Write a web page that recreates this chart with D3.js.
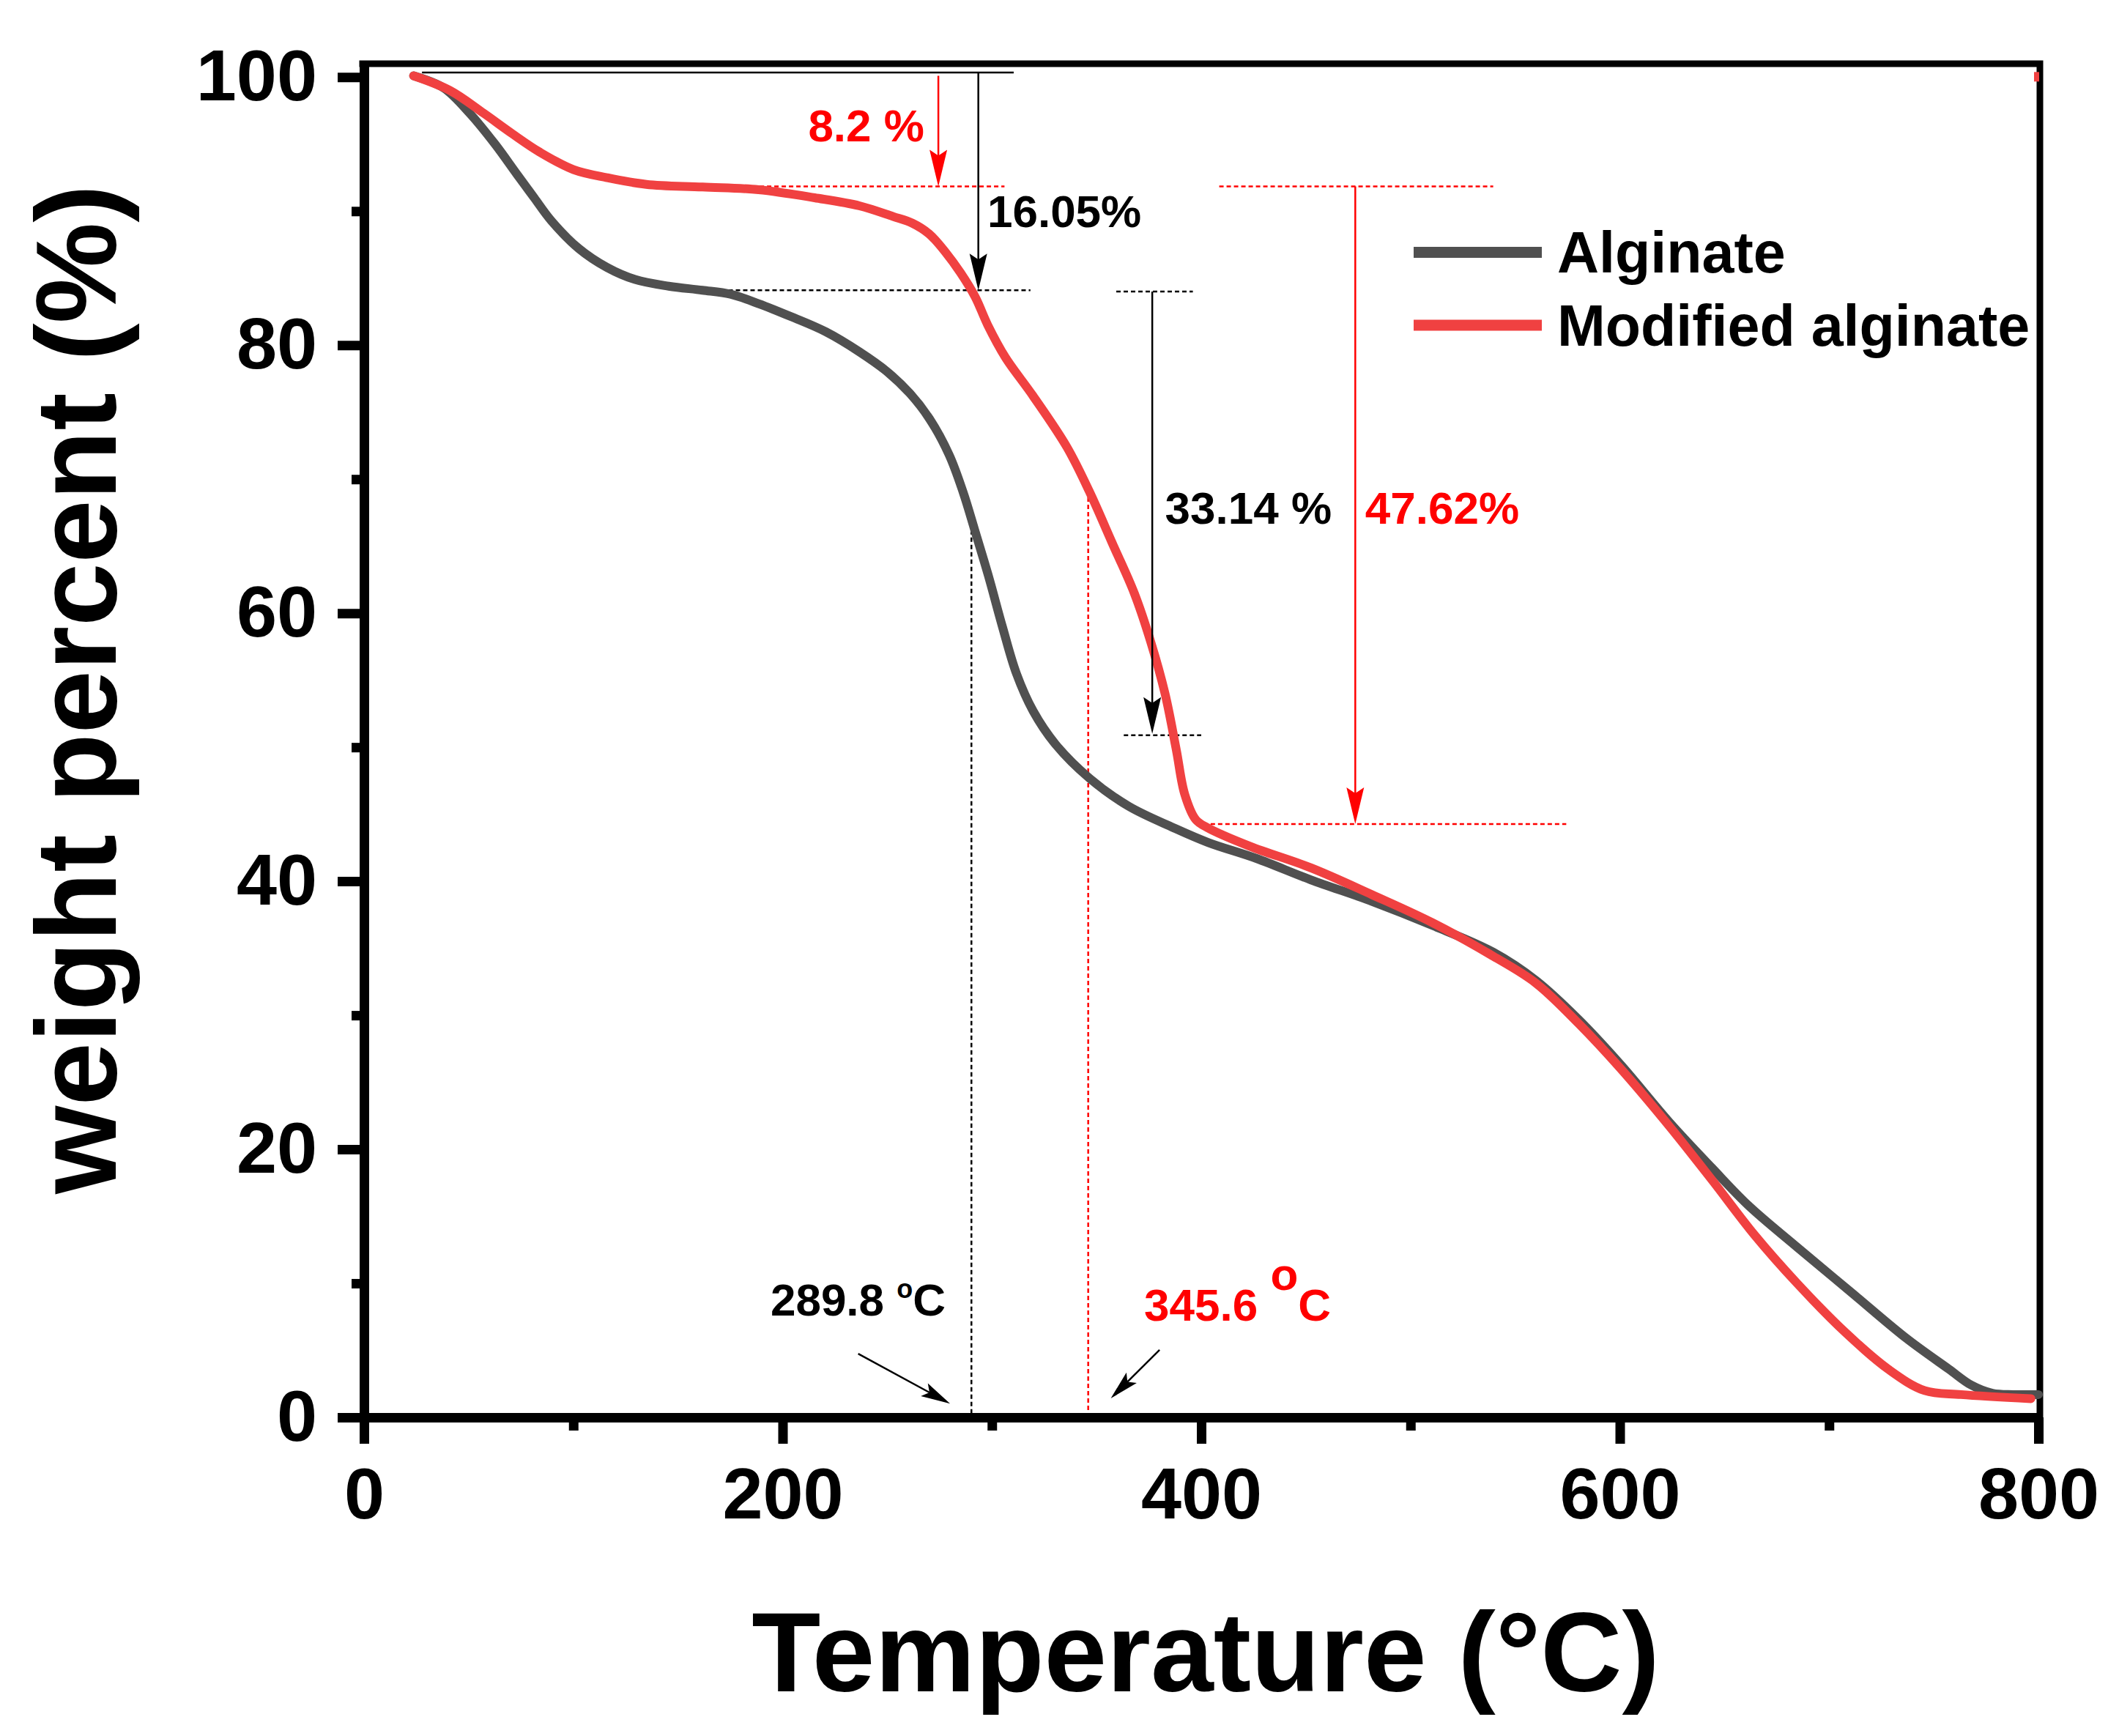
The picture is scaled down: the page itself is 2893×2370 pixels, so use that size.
<!DOCTYPE html>
<html>
<head>
<meta charset="utf-8">
<script src="https://cdn.jsdelivr.net/npm/d3@7"></script>
<style>
  body { margin: 0; background: #fff; }
  svg text { font-family: "Liberation Sans", Arial, sans-serif; font-weight: bold; }
</style>
</head>
<body>
<div id="tga"></div>
<script>
// data
var algTemp = [23.7, 38, 50.5, 62.6, 73.3, 81.3, 89.4, 102.7, 116.1, 129.5, 145.6, 161.7, 175.1, 188.5, 204.5,
  220.6, 236.7, 250.1, 260.8, 270.2, 279.6, 286.3, 291.6, 298.3, 305, 311.7, 319.7, 330.5, 346.5, 365.3, 386.7,
  403.2, 426.4, 452.5, 481.6, 510.6, 539.6, 559.9, 580.2, 600.5, 623.8, 644.1, 661.5, 684.7, 710.8, 736.9,
  757.2, 768, 778, 788, 800];
var algWeight = [100.1, 99.2, 97.3, 95.0, 92.7, 91.0, 89.3, 87.2, 85.8, 84.9, 84.4, 84.1, 83.8, 83.1, 82.1,
  81.0, 79.5, 78.0, 76.4, 74.5, 71.8, 69.0, 66.3, 62.8, 59.0, 55.5, 52.7, 50.2, 47.7, 45.6, 44.0,
  42.9, 41.7, 40.1, 38.5, 36.7, 34.7, 32.6, 29.7, 26.3, 22.0, 18.6, 15.8, 12.7, 9.3, 5.9,
  3.6, 2.4, 1.8, 1.7, 1.7];

var modTemp = [23.7, 41.1, 57.2, 70.6, 84, 100.1, 116.1, 134.9, 161.7, 188.5, 215.3, 236.7, 252.8, 262,
  270, 278, 285, 292, 298, 306.4, 319.7, 335.8, 346.5, 357.3, 368, 376, 382.7, 388.1, 392.1, 397.4, 403, 423.5,
  452.5, 481.6, 510.6, 539.6, 559.9, 580.2, 600.5, 623.8, 644.1, 664.4, 684.7, 708, 728.2, 745.6, 763, 796.4];
var modWeight = [100.1, 99.0, 97.3, 95.8, 94.4, 93.1, 92.5, 92.0, 91.8, 91.6, 91.0, 90.4, 89.6, 89.1,
  88.3, 86.9, 85.4, 83.6, 81.5, 79.1, 76.2, 72.4, 69.1, 65.3, 61.5, 57.8, 54.0, 49.8, 46.5, 44.6, 44.0, 42.6,
  41.0, 39.0, 36.9, 34.4, 32.4, 29.4, 26.0, 21.7, 17.7, 13.6, 10.0, 6.3, 3.6, 2.0, 1.7, 1.4];
var modStray = [800, 100];

var seriesNames = ["Alginate", "Modified alginate"];
var seriesColors = ["#505050", "#f04141"];

var xTicks = [0, 200, 400, 600, 800];
var xMinor = [100, 300, 500, 700];
var yTicks = [0, 20, 40, 60, 80, 100];
var yMinor = [10, 30, 50, 70, 90];

// annotations, in (temperature, weight %)
var refLine = [[27.7, 100.35], [310.4, 100.35]];
var blackDashes = [
  [[149.6, 84.1], [318.4, 84.1]],
  [[359.4, 84.0], [396, 84.0]],
  [[363, 50.9], [400, 50.9]],
  [[290.2, 66.75], [290.2, 0]]
];
var redDashes = [
  [[175, 91.85], [306, 91.85]],
  [[408.6, 91.85], [539.5, 91.85]],
  [[401, 44.27], [574.4, 44.27]],
  [[346, 68.65], [346, 0]]
];
var arrows = [
  {from: [274.4, 100.1], to: [274.4, 91.85], red: true},
  {from: [293.5, 100.35], to: [293.5, 84.1], red: false},
  {from: [376.6, 84.0], to: [376.6, 51.0], red: false},
  {from: [473.6, 91.85], to: [473.6, 44.27], red: true},
  {from: [236.1, 4.75], to: [280, 1.02], red: false, small: true},
  {from: [380.1, 5.04], to: [356.8, 1.42], red: false, small: true}
];
var labels = [
  {text: "8.2 %", at: [267.7, 95.2], anchor: "end", red: true},
  {text: "16.05%", at: [297.8, 88.8], anchor: "start", red: false},
  {text: "33.14 %", at: [382.7, 66.66], anchor: "start", red: false},
  {text: "47.62%", at: [478.3, 66.66], anchor: "start", red: true}
];
var tempLabels = [
  {num: "289.8", at: [194.2, 7.6], red: false, degSize: 36, degRise: 24},
  {num: "345.6", at: [372.7, 7.2], red: true, degSize: 62, degRise: 42}
];

// layout
var W = 2893, H = 2370;
var svg = d3.select("#tga")
  .append("svg")
    .attr("width", W)
    .attr("height", H);

var x = d3.scaleLinear().domain([0, 800]).range([497, 2783]);
var y = d3.scaleLinear().domain([0, 101]).range([1935, 87]);

var annRed = "#ff0000";

// frame (top and right)
svg.append("path")
  .attr("d", "M" + 490.5 + "," + y(101) + "H" + (x(800) + 2) + "V" + y(0))
  .attr("fill", "none")
  .attr("stroke", "#000")
  .attr("stroke-width", 9);

// annotation lines under the curves
var lineGen = d3.line().x(function(d) { return x(d[0]) }).y(function(d) { return y(d[1]) });

svg.append("path")
  .attr("d", lineGen(refLine))
  .attr("stroke", "#000")
  .attr("stroke-width", 2.5);

blackDashes.forEach(function(seg) {
  svg.append("path")
    .attr("d", lineGen(seg))
    .attr("stroke", "#000")
    .attr("stroke-width", 2.5)
    .attr("stroke-dasharray", "6,4");
});
redDashes.forEach(function(seg) {
  svg.append("path")
    .attr("d", lineGen(seg))
    .attr("stroke", annRed)
    .attr("stroke-width", 2.5)
    .attr("stroke-dasharray", "6,4");
});

// curves
var curve = d3.line()
  .x(function(d) { return x(d[0]) })
  .y(function(d) { return y(d[1]) })
  .curve(d3.curveCatmullRom.alpha(0.5));

var algPts = d3.zip(algTemp, algWeight);
var modPts = d3.zip(modTemp, modWeight);

[algPts, modPts].forEach(function(pts, i) {
  svg.append("path")
    .attr("d", curve(pts))
    .attr("fill", "none")
    .attr("stroke", seriesColors[i])
    .attr("stroke-width", 12)
    .attr("stroke-linejoin", "round")
    .attr("stroke-linecap", "round");
});

svg.append("rect")
  .attr("x", x(modStray[0]) - 6)
  .attr("y", y(modStray[1]) - 7)
  .attr("width", 7)
  .attr("height", 13)
  .attr("fill", seriesColors[1]);

// arrows
arrows.forEach(function(a) {
  var col = a.red ? annRed : "#000";
  var x1 = x(a.from[0]), y1 = y(a.from[1]), x2 = x(a.to[0]), y2 = y(a.to[1]);
  var len = a.small ? 40 : 50, half = a.small ? 10 : 12;
  var dx = x2 - x1, dy = y2 - y1, L = Math.sqrt(dx * dx + dy * dy);
  var ux = dx / L, uy = dy / L;
  var bx = x2 - ux * len, by = y2 - uy * len;
  svg.append("line")
    .attr("x1", x1).attr("y1", y1)
    .attr("x2", bx + ux * 10).attr("y2", by + uy * 10)
    .attr("stroke", col)
    .attr("stroke-width", 2.5);
  svg.append("path")
    .attr("d", "M" + x2 + "," + y2 +
      "L" + (bx - uy * half) + "," + (by + ux * half) +
      "L" + (bx + ux * 8) + "," + (by + uy * 8) +
      "L" + (bx + uy * half) + "," + (by - ux * half) + "Z")
    .attr("fill", col);
});

// text annotations
labels.forEach(function(l) {
  svg.append("text")
    .attr("x", x(l.at[0]))
    .attr("y", y(l.at[1]))
    .attr("text-anchor", l.anchor)
    .attr("font-size", 62)
    .attr("fill", l.red ? annRed : "#000")
    .text(l.text);
});

tempLabels.forEach(function(l) {
  var t = svg.append("text")
    .attr("x", x(l.at[0]))
    .attr("y", y(l.at[1]))
    .attr("font-size", 62)
    .attr("fill", l.red ? annRed : "#000");
  t.append("tspan").text(l.num + " ");
  t.append("tspan").attr("font-size", l.degSize).attr("dy", -l.degRise).text("o");
  t.append("tspan").attr("dy", l.degRise).text("C");
});

// axes
var xAxis = svg.append("g")
  .attr("transform", "translate(0," + y(0) + ")")
  .call(d3.axisBottom(x).tickValues(xTicks).tickSize(36).tickSizeOuter(0).tickPadding(32).tickFormat(d3.format("d")));
var xMinorAxis = svg.append("g")
  .attr("transform", "translate(0," + y(0) + ")")
  .call(d3.axisBottom(x).tickValues(xMinor).tickSize(18).tickFormat(""));
xMinorAxis.select(".domain").remove();

var yAxis = svg.append("g")
  .attr("transform", "translate(" + x(0) + ",0)")
  .call(d3.axisLeft(y).tickValues(yTicks).tickSize(36).tickSizeOuter(0).tickPadding(28).tickFormat(d3.format("d")));
var yMinorAxis = svg.append("g")
  .attr("transform", "translate(" + x(0) + ",0)")
  .call(d3.axisLeft(y).tickValues(yMinor).tickSize(17).tickFormat(""));
yMinorAxis.select(".domain").remove();

[xAxis, xMinorAxis, yAxis, yMinorAxis].forEach(function(g) {
  g.selectAll(".domain, .tick line")
    .attr("stroke", "#000")
    .attr("stroke-width", 13);
  g.selectAll(".tick text")
    .attr("fill", "#000")
    .attr("font-size", 99)
    .style("font-family", "'Liberation Sans', Arial, sans-serif")
    .style("font-weight", "bold");
});

// axis titles
svg.append("text")
  .attr("x", 1646)
  .attr("y", 2309)
  .attr("text-anchor", "middle")
  .attr("font-size", 154)
  .text("Temperature (°C)");

svg.append("text")
  .attr("transform", "translate(158,941) rotate(-90)")
  .attr("text-anchor", "middle")
  .attr("font-size", 155)
  .text("weight percent (%)");

// legend
var legend = svg.append("g");
seriesNames.forEach(function(name, i) {
  var ly = 344.4 + i * 99.5;
  legend.append("line")
    .attr("x1", 1930).attr("x2", 2105)
    .attr("y1", ly).attr("y2", ly)
    .attr("stroke", seriesColors[i])
    .attr("stroke-width", 15);
  legend.append("text")
    .attr("x", 2126)
    .attr("y", ly + 28)
    .attr("font-size", 79)
    .attr("fill", "#000")
    .text(name);
});
</script>
</body>
</html>
